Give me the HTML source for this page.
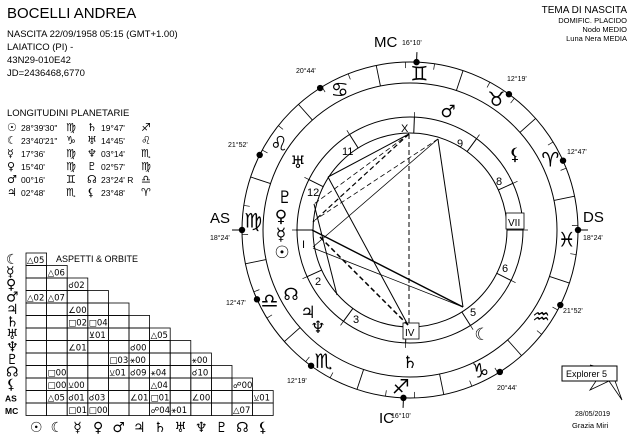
<!DOCTYPE html>
<html><head><meta charset="utf-8">
<style>
html,body{margin:0;padding:0;background:#fff;}
body{width:635px;height:442px;overflow:hidden;position:relative;font-family:"Liberation Sans","DejaVu Sans",sans-serif;}
svg{position:absolute;left:0;top:0;}
text{font-family:"Liberation Sans","DejaVu Sans",sans-serif;fill:#000;}
.g{font-family:"DejaVu Sans",sans-serif;}
</style></head>
<body>
<svg id="s" width="635" height="442" viewBox="0 0 635 442" xmlns="http://www.w3.org/2000/svg">
<text x="7" y="18" font-size="15">BOCELLI ANDREA</text>
<text x="7" y="37" font-size="9.5">NASCITA 22/09/1958 05:15 (GMT+1.00)</text>
<text x="7" y="50" font-size="9.5">LAIATICO (PI) -</text>
<text x="7" y="63" font-size="9.5">43N29-010E42</text>
<text x="7" y="76" font-size="9.5">JD=2436468,6770</text>
<text x="7" y="116" font-size="9.5">LONGITUDINI PLANETARIE</text>
<g font-size="8.5">
<text x="7" y="131" class="g" font-size="11">☉</text><text x="21" y="131">28°39'30"</text><text x="66" y="131" class="g" font-size="11">♍︎</text><text x="87" y="131" class="g" font-size="11">♄</text><text x="101" y="131">19°47'</text><text x="141" y="131" class="g" font-size="11">♐︎</text>
<text x="7" y="144" class="g" font-size="11">☾</text><text x="21" y="144">23°40'21"</text><text x="66" y="144" class="g" font-size="11">♑︎</text><text x="87" y="144" class="g" font-size="11">♅</text><text x="101" y="144">14°45'</text><text x="141" y="144" class="g" font-size="11">♌︎</text>
<text x="7" y="157" class="g" font-size="11">☿</text><text x="21" y="157">17°36'</text><text x="66" y="157" class="g" font-size="11">♍︎</text><text x="87" y="157" class="g" font-size="11">♆</text><text x="101" y="157">03°14'</text><text x="141" y="157" class="g" font-size="11">♏︎</text>
<text x="7" y="170" class="g" font-size="11">♀</text><text x="21" y="170">15°40'</text><text x="66" y="170" class="g" font-size="11">♍︎</text><text x="87" y="170" class="g" font-size="11">♇</text><text x="101" y="170">02°57'</text><text x="141" y="170" class="g" font-size="11">♍︎</text>
<text x="7" y="183" class="g" font-size="11">♂</text><text x="21" y="183">00°16'</text><text x="66" y="183" class="g" font-size="11">♊︎</text><text x="87" y="183" class="g" font-size="11">☊</text><text x="101" y="183">23°24'  R</text><text x="141" y="183" class="g" font-size="11">♎︎</text>
<text x="7" y="196" class="g" font-size="11">♃</text><text x="21" y="196">02°48'</text><text x="66" y="196" class="g" font-size="11">♏︎</text><text x="87" y="196" class="g" font-size="11">⚸</text><text x="101" y="196">23°48'</text><text x="141" y="196" class="g" font-size="11">♈︎</text>
</g>
<text x="627" y="13" font-size="10" text-anchor="end">TEMA DI NASCITA</text>
<text x="627" y="23" font-size="7.5" text-anchor="end">DOMIFIC. PLACIDO</text>
<text x="627" y="32" font-size="7.5" text-anchor="end">Nodo MEDIO</text>
<text x="627" y="41" font-size="7.5" text-anchor="end">Luna Nera MEDIA</text>
<g stroke="#000" fill="none" stroke-width="0.8">
<polyline points="590,365 611,370 622,400 609,381 590,390 600,375"/>
</g>
<rect x="562" y="366" width="55" height="15" fill="#fff" stroke="#000" stroke-width="1"/>
<text x="566" y="377" font-size="9">Explorer 5</text>
<text x="575" y="416" font-size="7">28/05/2019</text>
<text x="572" y="428" font-size="7.5">Grazia Miri</text>
<text x="56" y="262" font-size="9">ASPETTI &amp; ORBITE</text>
<g id="grid"></g>
<g id="chart"></g>
</svg>
<script>
var NS="http://www.w3.org/2000/svg",S=document.getElementById('chart'),G=document.getElementById('grid');
function el(p,t,a,txt){var e=document.createElementNS(NS,t);for(var k in a)e.setAttribute(k,a[k]);if(txt!=null)e.textContent=txt;p.appendChild(e);return e;}
var cx=410,cy=230,ASC=168.4;
function P(lon,r){var t=(180+lon-ASC)*Math.PI/180;return [cx+r*Math.cos(t),cy-r*Math.sin(t)];}
[168,147,113,97].forEach(function(r){el(S,'circle',{cx:cx,cy:cy,r:r,fill:'none',stroke:'#000','stroke-width':1});});
var signs=['♈','♉','♊','♋','♌','♍','♎','♏','♐','♑','♒','♓'];
for(var k=0;k<12;k++){var a=P(30*k,147),b=P(30*k,168);el(S,'line',{x1:a[0],y1:a[1],x2:b[0],y2:b[1],stroke:'#000','stroke-width':0.9});
 for(var d=10;d<30;d+=10){var c=P(30*k+d,162),e=P(30*k+d,168);el(S,'line',{x1:c[0],y1:c[1],x2:e[0],y2:e[1],stroke:'#000','stroke-width':0.7});}
 var m=P(30*k+15,157);el(S,'text',{x:m[0],y:m[1]+7,'font-size':20,'text-anchor':'middle','class':'g','font-weight':'bold'},signs[k]+'\uFE0E');}
var cusps=[168.4,192.78,222.32,256.17,290.73,321.87,348.4,12.78,42.32,76.17,110.73,141.87];
cusps.forEach(function(l,i){var a=P(l,97),b=P(l,113);el(S,'line',{x1:a[0],y1:a[1],x2:b[0],y2:b[1],stroke:'#000','stroke-width':1});
 var c=P(l,113),e=P(l,118);el(S,'line',{x1:c[0],y1:c[1],x2:e[0],y2:e[1],stroke:'#000','stroke-width':0.7});
 var d=P(l,168);el(S,'circle',{cx:d[0],cy:d[1],r:3.2,fill:'#000'});
 if(i%3==0){var o=P(l,178);el(S,'line',{x1:d[0],y1:d[1],x2:o[0],y2:o[1],stroke:'#000','stroke-width':1});}
});
var hn=[['X',401,132],['9',457,147],['8',496,185],['6',502,272],['5',470,316],['3',353,323],['2',315,285],['I',302,248],['12',307,196],['11',342,155]];
hn.forEach(function(h){el(S,'text',{x:h[1],y:h[2],'font-size':11},h[0]);});
el(S,'rect',{x:506,y:213,width:18,height:16,fill:'#fff',stroke:'#000','stroke-width':0.8});
el(S,'text',{x:508,y:226,'font-size':10},'VII');
el(S,'rect',{x:403,y:323,width:16,height:16,fill:'#fff',stroke:'#000','stroke-width':0.8});
el(S,'text',{x:405,y:336,'font-size':10},'IV');
var pl=[['♂',448,117],['⚸',515,160],['♅',298,168],['♇',285,203],['♀',281,222],['☿',281,240],['☉',282,258],['☊',291,300],['♃',308,318],['♆',318,333],['♄',410,368],['☾',482,340]];
pl.forEach(function(p){el(S,'text',{x:p[1],y:p[2],'font-size':17,'text-anchor':'middle','class':'g'},p[0]);});
el(S,'text',{x:374,y:47,'font-size':15},'MC');el(S,'text',{x:402,y:45,'font-size':7},'16°10\'');
el(S,'text',{x:379,y:423,'font-size':15},'IC');el(S,'text',{x:391,y:418,'font-size':7},'16°10\'');
el(S,'text',{x:210,y:223,'font-size':15},'AS');el(S,'text',{x:210,y:240,'font-size':7},'18°24\'');
el(S,'text',{x:583,y:222,'font-size':15},'DS');el(S,'text',{x:583,y:240,'font-size':7},'18°24\'');
[['20°44\'',296,73],['12°19\'',507,81],['21°52\'',228,147],['12°47\'',567,154],['12°47\'',226,305],['21°52\'',563,313],['12°19\'',287,383],['20°44\'',497,390]].forEach(function(t){el(S,'text',{x:t[1],y:t[2],'font-size':7},t[0]);});
var L=[[328,177,409,134,1,0],[328,177,408,325,1,0],[438,139,463,307,1,0],[438,139,313,247,0.8,0],[314,204,337,295,1,0],[312,230,463,307,1.4,0],[313,248,463,307,0.8,0],[409,134,314,204,0.8,1],[409,134,313,222,1.2,1],[438,139,315,220,0.8,1],[320,237,408,325,1.5,1],[409,134,409,325,1,1],[296,230,312,230,1,0]];
L.forEach(function(l){var a={x1:l[0],y1:l[1],x2:l[2],y2:l[3],stroke:'#000','stroke-width':l[4]};if(l[5])a['stroke-dasharray']='5,3';el(S,'line',a);});
var x0=26,cw=20.6,y0=253,rh=12.5;
var rl=['☾','☿','♀','♂','♃','♄','♅','♆','♇','☊','⚸','AS','MC'];
var cl=['☉','☾','☿','♀','♂','♃','♄','♅','♆','♇','☊','⚸'];
var cells={'0,0':'△05','1,1':'△06','2,2':'☌02','3,0':'△02','3,1':'△07','4,2':'∠00','5,2':'□02','5,3':'□04','6,3':'⊻01','6,6':'△05','7,2':'∠01','7,5':'☌00','8,4':'□03','8,5':'⚹00','8,8':'⚹00','9,1':'□00','9,4':'⚺01','9,5':'☌09','9,6':'⚹04','9,8':'☌10','10,1':'□00','10,2':'⚺00','10,6':'△04','10,10':'☍00','11,1':'△05','11,2':'☌01','11,3':'☌03','11,5':'∠01','11,6':'□01','11,8':'∠00','11,11':'⚺01','12,2':'□01','12,3':'□00','12,6':'☍04','12,7':'⚹01','12,10':'△07'};
for(var r=0;r<13;r++){var n=r<11?r+1:12;var y=y0+r*rh;
 el(G,'text',{x:r>10?5:6,y:y+11,'font-size':r>10?8.5:14,'class':r>10?'':'g','font-weight':r>10?'bold':'normal'},rl[r]);
 for(var c=0;c<n;c++){var x=x0+c*cw;el(G,'rect',{x:x,y:y,width:cw,height:rh,fill:'none',stroke:'#000','stroke-width':0.8});
  var t=cells[r+','+c];if(t)el(G,'text',{x:x+1,y:y+10,'font-size':8.5,'class':'g'},t);}}
cl.forEach(function(g,i){el(G,'text',{x:x0+i*cw+cw/2,y:432,'font-size':14,'text-anchor':'middle','class':'g'},g);});
</script>
</body></html>
